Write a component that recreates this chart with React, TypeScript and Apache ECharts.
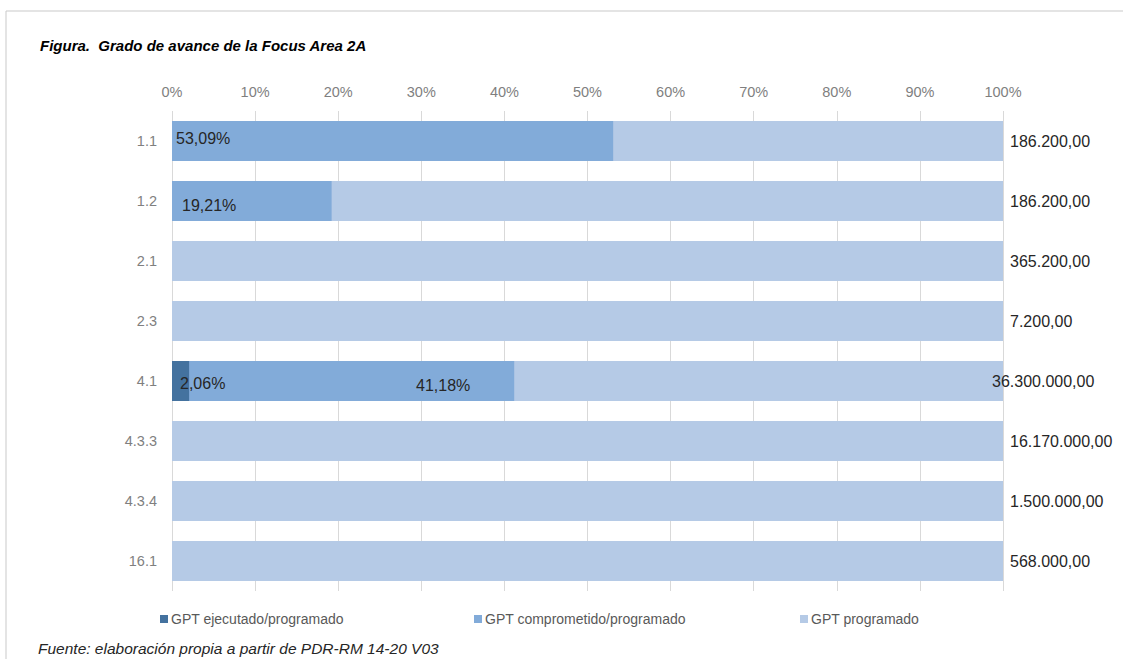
import React, { useEffect, useRef } from "react";
import * as echarts from "echarts";

const categories = ["1.1", "1.2", "2.1", "2.3", "4.1", "4.3.3", "4.3.4", "16.1"];
const ejecutado = [0, 0, 0, 0, 2.06, 0, 0, 0];
const comprometido = [53.09, 19.21, 0, 0, 41.18, 0, 0, 0];
const programado = [100, 100, 100, 100, 100, 100, 100, 100];
const amounts = [186200, 186200, 365200, 7200, 36300000, 16170000, 1500000, 568000];
const xTicks = [0, 10, 20, 30, 40, 50, 60, 70, 80, 90, 100];
const seriesNames = ["GPT ejecutado/programado", "GPT comprometido/programado", "GPT programado"];

const FONT = "'Liberation Sans', Arial, sans-serif";
const C_EJ = "#44729f";
const C_CO = "#82abd9";
const C_PR = "#b5cae6";

function fmtAmount(v: number): string {
  const [intPart, dec] = v.toFixed(2).split(".");
  const grouped = intPart.replace(/\B(?=(\d{3})+(?!\d))/g, ".");
  return grouped + "," + dec;
}
function fmtPct(v: number): string {
  return v.toFixed(2).replace(".", ",") + "%";
}

export default function App() {
  const ref = useRef<HTMLDivElement>(null);
  useEffect(() => {
    if (!ref.current) return;
    const chart = echarts.init(ref.current, undefined, { renderer: "svg" });
    const labelBase = { color: "#262626", fontSize: 16, fontFamily: FONT };
    const coOffsets: Record<number, number[]> = { 0: [0, -3], 1: [6, 4], 4: [240, 4] };
    const option: any = {
      animation: false,
      backgroundColor: "#ffffff",
      textStyle: { fontFamily: FONT },
      graphic: [
        {
          type: "rect",
          shape: { x: 6, y: 11, width: 1200, height: 800 },
          style: { fill: "none", stroke: "#c9c9c9", lineWidth: 1 },
          silent: true,
        },
        {
          type: "text",
          left: 40,
          top: 38,
          style: {
            text: "Figura.  Grado de avance de la Focus Area 2A",
            fontFamily: FONT,
            fontStyle: "italic",
            fontWeight: "bold",
            fontSize: 15,
            fill: "#000000",
          },
        },
        {
          type: "text",
          left: 38,
          top: 640,
          style: {
            text: "Fuente: elaboración propia a partir de PDR-RM 14-20 V03",
            fontFamily: FONT,
            fontStyle: "italic",
            fontSize: 15.5,
            fill: "#262626",
          },
        },
      ],
      legend: [0, 1, 2].map((i) => ({
        data: [seriesNames[i]],
        left: [155, 469, 795][i],
        top: 607,
        icon: "rect",
        itemWidth: 8,
        itemHeight: 8,
        itemGap: 0,
        textStyle: { color: "#595959", fontSize: 14, fontFamily: FONT, padding: [0, 0, 0, -2] },
      })),
      grid: { left: 172, right: 120, top: 111, bottom: 68, containLabel: false },
      xAxis: {
        type: "value",
        position: "top",
        min: 0,
        max: 100,
        interval: 10,
        axisLine: { show: false },
        axisTick: { show: false },
        splitLine: { show: true, lineStyle: { color: "#d9d9d9", width: 1 } },
        axisLabel: {
          margin: 12,
          color: "#7f7f7f",
          fontSize: 14.5,
          fontFamily: FONT,
          formatter: (v: number) => (xTicks.includes(v) ? v + "%" : ""),
        },
      },
      yAxis: {
        type: "category",
        inverse: true,
        data: categories,
        axisLine: { show: false },
        axisTick: { show: false },
        splitLine: { show: false },
        axisLabel: { margin: 15, color: "#7f7f7f", fontSize: 14.5, fontFamily: FONT },
      },
      series: [
        {
          name: seriesNames[2],
          type: "bar",
          barWidth: 40,
          barGap: "-100%",
          itemStyle: { color: C_PR },
          z: 1,
          data: programado.map((v, i) => ({
            value: v,
            label: i === 4 ? { offset: [-18, 0] } : undefined,
          })),
          label: {
            show: true,
            position: "right",
            distance: 7,
            ...labelBase,
            formatter: (p: any) => fmtAmount(amounts[p.dataIndex]),
          },
        },
        {
          name: seriesNames[1],
          type: "bar",
          barWidth: 40,
          barGap: "-100%",
          itemStyle: { color: C_CO },
          z: 2,
          data: comprometido.map((v, i) => ({
            value: v,
            label: coOffsets[i] ? { offset: coOffsets[i] } : undefined,
          })),
          label: {
            show: true,
            position: "insideLeft",
            distance: 4,
            ...labelBase,
            formatter: (p: any) => (p.value > 0 ? fmtPct(p.value) : ""),
          },
        },
        {
          name: seriesNames[0],
          type: "bar",
          barWidth: 40,
          barGap: "-100%",
          itemStyle: { color: C_EJ },
          z: 3,
          data: ejecutado.map((v, i) => ({
            value: v,
            label: i === 4 ? { offset: [4, 2] } : undefined,
          })),
          label: {
            show: true,
            position: "insideLeft",
            distance: 4,
            ...labelBase,
            formatter: (p: any) => (p.value > 0 ? fmtPct(p.value) : ""),
          },
        },
      ],
    };
    chart.setOption(option);
    return () => chart.dispose();
  }, []);
  return (
    <div
      ref={ref}
      style={{ position: "fixed", left: 0, top: 0, width: 1123, height: 659, background: "#fff" }}
    />
  );
}
